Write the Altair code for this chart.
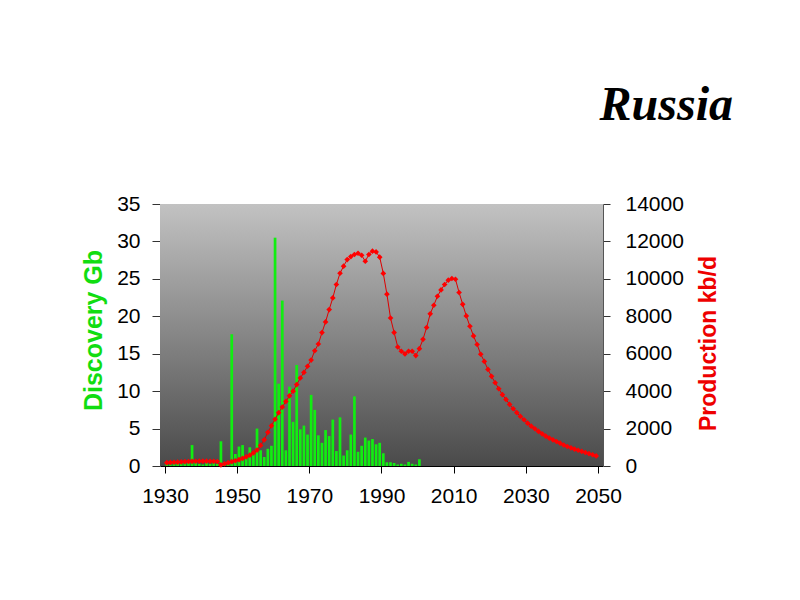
import altair as alt
import pandas as pd

# ---------------- data ----------------
disc_years = list(range(1930, 2001))
discovery = [0.3, 0.2, 0.4, 0.3, 0.5, 0.4, 0.6, 2.8, 0.5, 0.3,
             0.2, 0.5, 0.3, 0.4, 0.3, 3.3, 0.5, 0.3, 17.6, 1.6,
             2.6, 2.8, 1.4, 2.5, 1.6, 5.0, 2.1, 1.2, 2.3, 2.7,
             30.5, 11.0, 22.1, 2.1, 10.6, 5.9, 13.5, 4.9, 5.4, 4.2,
             9.5, 7.5, 4.1, 3.1, 4.8, 4.0, 6.2, 2.0, 6.5, 1.4,
             2.1, 4.2, 9.3, 1.9, 2.7, 3.8, 3.4, 3.6, 2.9, 3.1,
             1.7, 0.5, 0.5, 0.4, 0.2, 0.3, 0.2, 0.55, 0.3, 0.2,
             0.9]

prod_years = list(range(1930, 2050))
production = [180, 190, 200, 210, 220, 230, 240, 250, 255, 260,
              260, 260, 255, 250, 240, 60, 120, 180, 230, 280,
              340, 410, 490, 580, 700, 850, 1100, 1400, 1800, 2150,
              2500, 2850, 3150, 3450, 3750, 4000, 4350, 4700, 5000, 5330,
              5660, 6160, 6520, 7130, 7700, 8360, 8980, 9700, 10300, 10680,
              11030, 11190, 11300, 11370, 11260, 10940, 11300, 11480, 11440, 11160,
              10290, 9180, 7910, 7130, 6360, 6130, 5990, 6130, 6130, 5900,
              6270, 6770, 7400, 8130, 8590, 9070, 9410, 9700, 9930, 10020,
              9980, 9270, 8640, 8020, 7470, 6950, 6490, 5970, 5590, 5160,
              4790, 4450, 4130, 3810, 3560, 3290, 3060, 2850, 2650, 2470,
              2290, 2130, 1990, 1850, 1720, 1600, 1490, 1400, 1310, 1220,
              1120, 1040, 970, 900, 840, 780, 720, 660, 600, 540]

x_ticks = [1930, 1950, 1970, 1990, 2010, 2030, 2050]
left_ticks = [0, 5, 10, 15, 20, 25, 30, 35]
right_ticks = [0, 2000, 4000, 6000, 8000, 10000, 12000, 14000]
title_text = "Russia"
left_title = "Discovery Gb"
right_title = "Production kb/d"

disc_df = pd.DataFrame({"year": disc_years, "gb": discovery})
prod_df = pd.DataFrame({"year": prod_years, "kbd": production})

W, H = 443, 262
FONT = "Liberation Sans"

xscale = alt.Scale(domain=[1930, 2050], nice=False, zero=False)
x_axis = alt.Axis(values=x_ticks, format="d", title=None, grid=False,
                  labelFont=FONT, labelFontSize=21, labelColor="black",
                  labelPadding=12, tickSize=7, tickColor="black",
                  domainColor="black", labelFlush=False)

bg = alt.Chart(alt.Data(values=[{}])).mark_rect(
    fill=alt.LinearGradient(
        gradient="linear",
        stops=[alt.GradientStop(offset=0, color="#c2c2c2"),
               alt.GradientStop(offset=1, color="#4a4a4a")],
        x1=0, x2=0, y1=0, y2=1),
    strokeWidth=0,
).encode(x=alt.value(0), x2=alt.value(W), y=alt.value(0), y2=alt.value(H))

bars = alt.Chart(disc_df).transform_calculate(
    xc="datum.year + 0.5"
).mark_bar(color="#11ee11", width=2.7, orient="vertical").encode(
    x=alt.X("xc:Q", scale=xscale, axis=x_axis),
    y=alt.Y("gb:Q", scale=alt.Scale(domain=[0, 35], nice=False),
            axis=alt.Axis(values=left_ticks, orient="left", title=left_title,
                          format="d", grid=False, labelFont=FONT, labelFontSize=21,
                          labelColor="black", labelPadding=12, tickSize=8,
                          tickColor="#333333", domainColor="#555555",
                          titleFont=FONT, titleFontSize=25, titleFontWeight="bold",
                          titleColor="#11dd11", titleAngle=-90,
                          titleX=-67, titleY=126, titleAlign="center",
                          titleBaseline="middle")),
)

line = alt.Chart(prod_df).transform_calculate(
    xc="datum.year + 0.5"
).mark_line(
    color="#dd0000", strokeWidth=1,
    point=alt.OverlayMarkDef(shape="diamond", size=32, color="#ff0000", filled=True),
).encode(
    x=alt.X("xc:Q", scale=xscale, axis=x_axis),
    y=alt.Y("kbd:Q", scale=alt.Scale(domain=[0, 14000], nice=False),
            axis=alt.Axis(values=right_ticks, orient="right", title=right_title,
                          format="d", grid=False, labelFont=FONT, labelFontSize=21,
                          labelColor="black", labelPadding=15, tickSize=7,
                          tickColor="#333333", domainColor="#555555",
                          titleFont=FONT, titleFontSize=23, titleFontWeight="bold",
                          titleColor="#ee0000", titleAngle=-90,
                          titleX=105, titleY=139, titleAlign="center",
                          titleBaseline="middle")),
)

title = alt.Chart(alt.Data(values=[{}])).mark_text(
    text=title_text, font="Liberation Serif", fontSize=48,
    fontStyle="italic", fontWeight="bold", align="right",
    baseline="alphabetic", color="black",
).encode(x=alt.value(573), y=alt.value(-84))

chart = alt.layer(bg, bars, line, title).resolve_scale(
    y="independent"
).properties(
    width=W, height=H,
    autosize=alt.AutoSizeParams(type="none"),
    padding={"left": 152, "top": 196, "right": 180, "bottom": 120},
    background="white",
).configure_view(stroke=None)

chart.save("out.html", embed_options={"renderer": "svg", "actions": False})
